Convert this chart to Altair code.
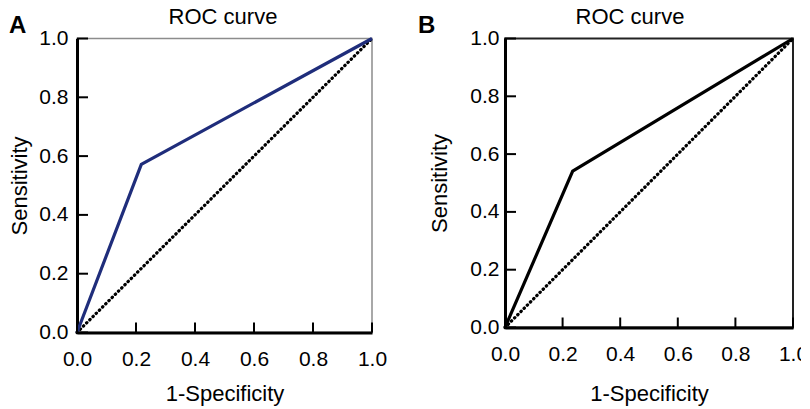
import altair as alt
import pandas as pd

# ROC curve points
a_fpr = [0.0, 0.218, 1.0]
a_tpr = [0.0, 0.572, 1.0]
b_fpr = [0.0, 0.235, 1.0]
b_tpr = [0.0, 0.541, 1.0]
ref_x = [0.0, 1.0]
ref_y = [0.0, 1.0]
tick_vals = [0.0, 0.2, 0.4, 0.6, 0.8, 1.0]

FONT = "Liberation Sans"


def panel(fpr, tpr, color, letter, w, h, border_color, border_w,
          title_x, letter_x, xlab_pad, xtitle_pad, ylab_pad, ytitle_pad):
    roc = pd.DataFrame({"x": fpr, "y": tpr})
    ref = pd.DataFrame({"x": ref_x, "y": ref_y})
    ticks = pd.DataFrame({"v": tick_vals})

    xs = alt.Scale(domain=[0, 1], nice=False)
    ys = alt.Scale(domain=[0, 1], nice=False)
    common = dict(values=tick_vals, format=".1f", grid=False, tickSize=0,
                  domainWidth=3, domainColor="black", labelFontSize=21,
                  titleFontSize=22, labelFont=FONT, titleFont=FONT,
                  titleFontWeight="normal", labelColor="black",
                  titleColor="black", labelFlush=False)
    xaxis = alt.Axis(title="1-Specificity", labelPadding=xlab_pad,
                     titlePadding=xtitle_pad, **common)
    yaxis = alt.Axis(title="Sensitivity", labelPadding=ylab_pad,
                     titlePadding=ytitle_pad, **common)

    diag = alt.Chart(ref).mark_line(
        color="black", strokeWidth=3.2, strokeDash=[0.5, 4], strokeCap="round"
    ).encode(x=alt.X("x:Q", scale=xs, axis=xaxis),
             y=alt.Y("y:Q", scale=ys, axis=yaxis))

    curve = alt.Chart(roc).mark_line(color=color, strokeWidth=3.2).encode(
        x=alt.X("x:Q", scale=xs), y=alt.Y("y:Q", scale=ys))

    xticks = alt.Chart(ticks).mark_rule(color="black", strokeWidth=2).encode(
        x=alt.X("v:Q", scale=xs), y=alt.value(h), y2=alt.value(h - 10))
    yticks = alt.Chart(ticks).mark_rule(color="black", strokeWidth=2).encode(
        y=alt.Y("v:Q", scale=ys), x=alt.value(0), x2=alt.value(11))

    lab = alt.Chart(pd.DataFrame({"t": [letter]})).mark_text(
        font=FONT, fontSize=24, fontWeight="bold", align="left",
        baseline="alphabetic", color="black"
    ).encode(text="t:N", x=alt.value(letter_x), y=alt.value(-6))

    ttl = alt.Chart(pd.DataFrame({"t": ["ROC curve"]})).mark_text(
        font=FONT, fontSize=22, align="center", baseline="alphabetic",
        color="black"
    ).encode(text="t:N", x=alt.value(title_x), y=alt.value(-15))

    return alt.layer(diag, curve, xticks, yticks, lab, ttl).properties(
        width=w, height=h,
        view=alt.ViewBackground(stroke=border_color, strokeWidth=border_w),
    )


pa = panel(a_fpr, a_tpr, "#1f2d7b", "A", 295, 294, "#8c8c8c", 1.5,
           146, -68, 16, 14, 9, 7)
pb = panel(b_fpr, b_tpr, "black", "B", 288, 289, "#222222", 2,
           125, -87, 16, 19, 6, 18)

chart = alt.hconcat(pa, pb, spacing=29).properties(
    padding={"left": 0, "top": -3.5, "right": -8, "bottom": 0},
    background="white",
)

chart.save("out.html", embed_options={"renderer": "svg", "actions": False})
